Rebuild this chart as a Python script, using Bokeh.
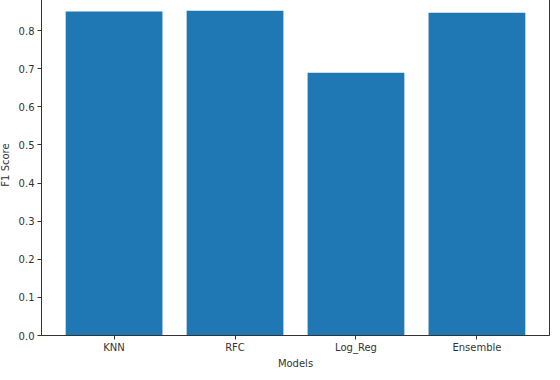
from bokeh.plotting import figure
from bokeh.embed import file_html
from bokeh.resources import INLINE
from bokeh.models import FixedTicker, NumeralTickFormatter, Range1d, ColumnDataSource

models = ["KNN", "RFC", "Log_Reg", "Ensemble"]
f1_scores = [0.850, 0.852, 0.689, 0.847]
y_ticks = [0.0, 0.1, 0.2, 0.3, 0.4, 0.5, 0.6, 0.7, 0.8]

xs = list(range(len(models)))
src = ColumnDataSource(dict(x=xs, top=f1_scores))

p = figure(width=554, height=378, output_backend="svg", toolbar_location=None,
           x_range=Range1d(-0.6, len(models) - 0.4), y_range=Range1d(0, max(f1_scores) * 1.05),
           min_border_left=42, min_border_top=1, min_border_right=1, min_border_bottom=0)
p.styles = {"margin-left": "-4px", "margin-top": "-7px",
            "margin-right": "-8px", "margin-bottom": "-8px"}

p.vbar(x="x", top="top", width=0.8, bottom=0, source=src, fill_color="#1f77b4", line_color=None)

p.grid.visible = False
p.outline_line_color = "#333333"
p.outline_line_width = 1

font = "DejaVu Sans"
for ax in (p.xaxis[0], p.yaxis[0]):
    ax.axis_line_color = "#333333"
    ax.major_tick_line_color = "#333333"
    ax.major_tick_out = 4
    ax.major_tick_in = 0
    ax.minor_tick_line_color = None
    ax.major_label_text_font = font
    ax.major_label_text_font_size = "10px"
    ax.major_label_text_color = "#333333"
    ax.axis_label_text_font = font
    ax.axis_label_text_font_size = "10px"
    ax.axis_label_text_font_style = "normal"
    ax.axis_label_text_color = "#333333"

p.xaxis.ticker = FixedTicker(ticks=xs)
p.xaxis.major_label_overrides = {i: m for i, m in enumerate(models)}
p.xaxis.axis_label = "Models"
p.xaxis.major_label_standoff = 2
p.xaxis.axis_label_standoff = 2

p.yaxis.ticker = FixedTicker(ticks=y_ticks)
p.yaxis.formatter = NumeralTickFormatter(format="0.0")
p.yaxis.axis_label = "F1 Score"
p.yaxis.major_label_standoff = 3
p.yaxis.axis_label_standoff = 5

open("out.html", "w").write(file_html(p, INLINE))
